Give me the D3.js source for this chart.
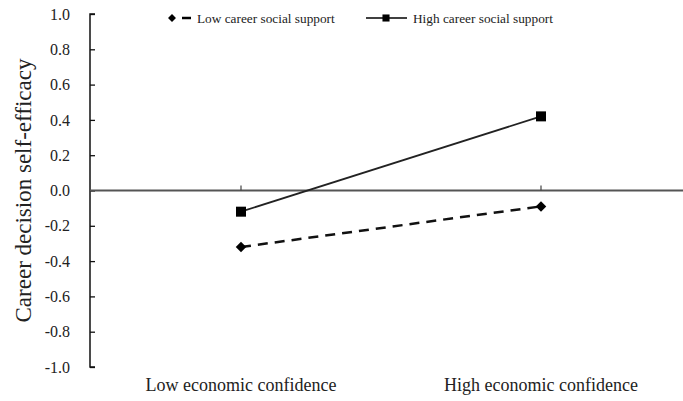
<!DOCTYPE html>
<html>
<head>
<meta charset="utf-8">
<script src="https://cdn.jsdelivr.net/npm/d3@7"></script>
<style>
  body { margin: 0; background: #fff; }
</style>
</head>
<body>
<div id="chart"></div>
<script>
// values
const categories = ["Low economic confidence", "High economic confidence"];
const lowSupport = [-0.32, -0.09];
const highSupport = [-0.12, 0.42];
const yTicks = [1.0, 0.8, 0.6, 0.4, 0.2, 0.0, -0.2, -0.4, -0.6, -0.8, -1.0];
const seriesNames = ["Low career social support", "High career social support"];

const fontFamily = "'Liberation Serif', 'Times New Roman', Times, serif";
const svgWidth = 683, svgHeight = 401;
const margin = {top: 14, right: 0, bottom: 34, left: 90};

const svg = d3.select("#chart").append("svg")
    .attr("width", svgWidth)
    .attr("height", svgHeight)
    .style("font-family", fontFamily);

const y = d3.scaleLinear()
    .domain([-1, 1])
    .range([svgHeight - margin.bottom, margin.top]);

const x = d3.scalePoint()
    .domain(categories)
    .range([241, 541]);

// y axis, ticks inward
const yAxis = svg.append("g")
    .attr("transform", `translate(${margin.left},0)`)
    .call(d3.axisRight(y).tickValues(yTicks).tickSize(5).tickFormat(d3.format(".1f")));
yAxis.attr("font-family", null).attr("font-size", null);
yAxis.select(".domain").attr("stroke", "#111").attr("stroke-width", 1.5)
    .attr("d", `M5,${y(1)}H0V${y(-1)}H5`);
yAxis.selectAll(".tick line").attr("stroke", "#111").attr("stroke-width", 1.3);
yAxis.selectAll(".tick text")
    .attr("x", -20)
    .attr("text-anchor", "end")
    .attr("fill", "#222")
    .style("font-family", fontFamily)
    .style("font-size", "16px")
    .text(d => d3.format(".1f")(d).replace("−", "-"));

// zero line with category ticks
svg.append("line")
    .attr("x1", margin.left).attr("x2", svgWidth)
    .attr("y1", y(0)).attr("y2", y(0))
    .attr("stroke", "#555").attr("stroke-width", 2);

svg.selectAll(".xtick").data(categories).enter().append("line")
    .attr("class", "xtick")
    .attr("x1", d => x(d)).attr("x2", d => x(d))
    .attr("y1", y(0) - 5).attr("y2", y(0))
    .attr("stroke", "#444").attr("stroke-width", 1.2);

svg.selectAll(".xlabel").data(categories).enter().append("text")
    .attr("class", "xlabel")
    .attr("x", d => x(d))
    .attr("y", 391)
    .attr("text-anchor", "middle")
    .attr("fill", "#222")
    .style("font-size", "18px")
    .text(d => d);

// y title
svg.append("text")
    .attr("transform", `translate(31,${y(0)}) rotate(-90)`)
    .attr("text-anchor", "middle")
    .attr("fill", "#222")
    .style("font-size", "23px")
    .text("Career decision self-efficacy");

const line = d3.line()
    .x((d, i) => x(categories[i]))
    .y(d => y(d));

// low support: dashed with diamonds
svg.append("path")
    .datum(lowSupport)
    .attr("d", line)
    .attr("fill", "none")
    .attr("stroke", "#111")
    .attr("stroke-width", 2.5)
    .attr("stroke-dasharray", "10,7");

const diamond = d3.symbol().type(d3.symbolDiamond2).size(70);
const square = d3.symbol().type(d3.symbolSquare).size(100);

svg.selectAll(".lowPt").data(lowSupport).enter().append("path")
    .attr("class", "lowPt")
    .attr("d", diamond)
    .attr("transform", (d, i) => `translate(${x(categories[i])},${y(d)})`)
    .attr("fill", "#000");

// high support: solid with squares
svg.append("path")
    .datum(highSupport)
    .attr("d", line)
    .attr("fill", "none")
    .attr("stroke", "#222")
    .attr("stroke-width", 1.8);

svg.selectAll(".highPt").data(highSupport).enter().append("path")
    .attr("class", "highPt")
    .attr("d", square)
    .attr("transform", (d, i) => `translate(${x(categories[i])},${y(d)})`)
    .attr("fill", "#000");

// legend
const legend = svg.append("g").attr("transform", "translate(0,18)");
legend.append("path")
    .attr("d", d3.symbol().type(d3.symbolDiamond2).size(40))
    .attr("transform", "translate(172,0)")
    .attr("fill", "#000");
legend.append("line")
    .attr("x1", 182).attr("x2", 191).attr("y1", 0).attr("y2", 0)
    .attr("stroke", "#000").attr("stroke-width", 2.5);
legend.append("text")
    .attr("x", 197).attr("y", 4.5)
    .attr("fill", "#222")
    .style("font-size", "13.3px")
    .text(seriesNames[0]);

legend.append("line")
    .attr("x1", 366).attr("x2", 407).attr("y1", 0).attr("y2", 0)
    .attr("stroke", "#000").attr("stroke-width", 1.5);
legend.append("path")
    .attr("d", d3.symbol().type(d3.symbolSquare).size(50))
    .attr("transform", "translate(386,0)")
    .attr("fill", "#000");
legend.append("text")
    .attr("x", 413).attr("y", 4.5)
    .attr("fill", "#222")
    .style("font-size", "13.3px")
    .text(seriesNames[1]);
</script>
</body>
</html>
